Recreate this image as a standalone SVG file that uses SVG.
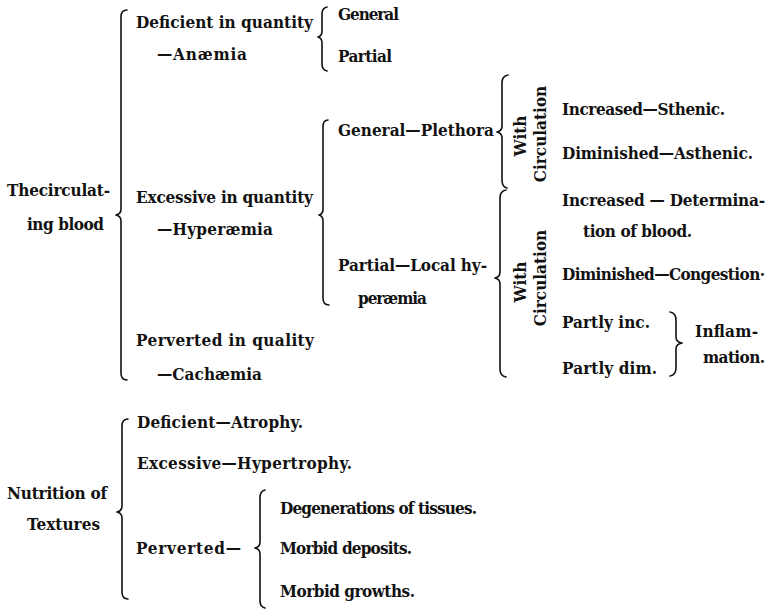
<svg xmlns="http://www.w3.org/2000/svg" width="775" height="609" viewBox="0 0 775 609">
<style>
text{font-family:"DejaVu Serif Condensed","DejaVu Serif","Liberation Serif",serif;font-stretch:condensed;font-weight:bold;font-size:17px;fill:#111;}
.br{fill:none;stroke:#111;stroke-width:1.6;stroke-linecap:round;stroke-linejoin:round;}
</style>
<rect width="775" height="609" fill="#fff"/>
<g id="connectors">
<path class="br" d="M127,10 Q121,10 121,17 L121,209 Q121,214 116,215 Q121,216 121,221 L121,373 Q121,380 127,380"/>
<path class="br" d="M327,7 Q322,8 322,14 L322,31 Q322,36 318,37 Q322,38 322,43 L322,64 Q322,70 327,71"/>
<path class="br" d="M328,120 Q323,120 323,127 L323,209 Q323,214 319,215 Q323,216 323,221 L323,298 Q323,305 329,305"/>
<path class="br" d="M508,75 Q502,76 502,83 L502,126 Q502,131 497,132 Q502,133 502,138 L502,180 Q502,187 507,188"/>
<path class="br" d="M506,190 Q500,191 500,198 L500,272 Q500,277 495,278 Q500,279 500,284 L500,369 Q500,376 506,377"/>
<path class="br" d="M128,419 Q122,419 122,426 L122,506 Q122,511 117,512 Q122,513 122,518 L122,592 Q122,599 128,599"/>
<path class="br" d="M265,490 Q260,491 260,498 L260,542 Q260,547 255,548 Q260,549 260,554 L260,601 Q260,607 265,608"/>
<path class="br" d="M670,312 Q676,313 676,320 L676,337 Q676,342 682,343 Q676,344 676,349 L676,368 Q676,375 670,376"/>
</g>
<g id="circulating-blood"><text x="7" y="196" textLength="103">Thecirculat-</text><text x="27" y="230" textLength="77">ing blood</text></g>
<g id="deficient-quantity"><text x="136" y="28" textLength="177">Deficient in quantity</text><text x="157" y="60" textLength="90">—Anæmia</text></g>
<g id="anaemia-general"><text x="338" y="20" textLength="61">General</text></g>
<g id="anaemia-partial"><text x="338" y="62" textLength="54">Partial</text></g>
<g id="excessive-quantity"><text x="136" y="203" textLength="177">Excessive in quantity</text><text x="157" y="235" textLength="116">—Hyperæmia</text></g>
<g id="plethora"><text x="338" y="136" textLength="156">General—Plethora</text></g>
<g id="local-hyperaemia"><text x="338" y="271" textLength="149">Partial—Local hy-</text><text x="358" y="304" textLength="69">peræmia</text></g>
<g id="perverted-quality"><text x="136" y="346" textLength="178">Perverted in quality</text><text x="157" y="380" textLength="105">—Cachæmia</text></g>
<g id="with-circulation-1"><text transform="translate(526,136) rotate(-90)" text-anchor="middle">With</text><text transform="translate(546,134) rotate(-90)" text-anchor="middle">Circulation</text></g>
<g id="sthenic"><text x="562" y="115" textLength="163">Increased—Sthenic.</text></g>
<g id="asthenic"><text x="562" y="159" textLength="191">Diminished—Asthenic.</text></g>
<g id="with-circulation-2"><text transform="translate(526,282) rotate(-90)" text-anchor="middle">With</text><text transform="translate(546,278) rotate(-90)" text-anchor="middle">Circulation</text></g>
<g id="determination"><text x="562" y="206" textLength="203">Increased — Determina-</text><text x="583" y="237" textLength="109">tion of blood.</text></g>
<g id="congestion"><text x="562" y="280" textLength="203">Diminished—Congestion·</text></g>
<g id="partly-inc"><text x="562" y="328" textLength="88">Partly inc.</text></g>
<g id="partly-dim"><text x="562" y="374" textLength="95">Partly dim.</text></g>
<g id="inflammation"><text x="695" y="337" textLength="63">Inflam-</text><text x="703" y="363" textLength="62">mation.</text></g>
<g id="nutrition-textures"><text x="7" y="499" textLength="100">Nutrition of</text><text x="27" y="530" textLength="73">Textures</text></g>
<g id="atrophy"><text x="137" y="428" textLength="166">Deficient—Atrophy.</text></g>
<g id="hypertrophy"><text x="137" y="469" textLength="215">Excessive—Hypertrophy.</text></g>
<g id="perverted"><text x="136" y="554" textLength="105">Perverted—</text></g>
<g id="degenerations"><text x="280" y="514" textLength="197">Degenerations of tissues.</text></g>
<g id="morbid-deposits"><text x="280" y="554" textLength="132">Morbid deposits.</text></g>
<g id="morbid-growths"><text x="280" y="597" textLength="135">Morbid growths.</text></g>
</svg>
